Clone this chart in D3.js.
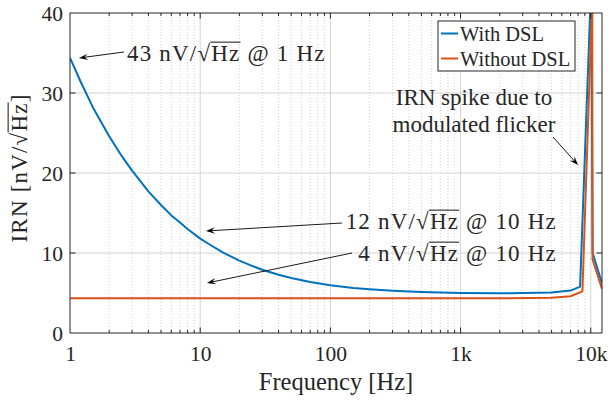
<!DOCTYPE html>
<html>
<head>
<meta charset="utf-8">
<script src="https://cdn.jsdelivr.net/npm/d3@7"></script>
<style>
  body { margin: 0; background: #fff; }
  text { font-family: "Liberation Serif", "Times New Roman", serif; fill: #262626; }
</style>
</head>
<body>
<svg id="chart" width="608" height="400"></svg>
<script>
// IRN data (frequency in Hz, IRN in nV/sqrt(Hz))
const freqWith = [1, 1.2, 1.5, 2, 2.5, 3, 4, 5, 6, 7, 8, 10, 12, 15, 20, 25, 30, 40, 50, 70, 100, 150, 200, 300, 500, 1000, 2000, 5000, 7000, 8280, 10090, 10340, 12200];
const irnWith = [34.4, 31.5, 28.2, 24.6, 22.1, 20.3, 17.7, 16.0, 14.7, 13.8, 13.0, 11.8, 11.0, 10.05, 9.05, 8.4, 7.9, 7.28, 6.87, 6.37, 5.97, 5.63, 5.46, 5.28, 5.12, 5.01, 4.96, 5.05, 5.3, 5.8, 44, 10.0, 6.2];

const freqWithout = [1, 10, 100, 1000, 2000, 5000, 7000, 8630, 10270, 10320, 12200];
const irnWithout = [4.33, 4.33, 4.33, 4.33, 4.34, 4.4, 4.6, 5.2, 42, 9.2, 5.5];

const xTicks = [1, 10, 100, 1000, 10000];
const xTickLabels = ["1", "10", "100", "1k", "10k"];
const yTicks = [0, 10, 20, 30, 40];

const seriesNames = ["With DSL", "Without DSL"];
const colors = ["#0072BD", "#D95319"];

const margin = { left: 70, right: 6, top: 13, bottom: 67 };
const W = 608, H = 400;
const innerW = W - margin.left - margin.right;
const innerH = H - margin.top - margin.bottom;

const svg = d3.select("#chart");

const x = d3.scaleLog().domain([1, 12200]).range([margin.left, margin.left + innerW]);
const y = d3.scaleLinear().domain([0, 40]).range([margin.top + innerH, margin.top]);

const minorTicks = [];
for (let dec = 1; dec < 10000; dec *= 10) {
    for (let k = 2; k <= 9; k++) minorTicks.push(dec * k);
}

// grid
const grid = svg.append("g").attr("class", "grid");
grid.selectAll(".minor-x").data(minorTicks).join("line")
    .attr("x1", d => x(d)).attr("x2", d => x(d))
    .attr("y1", y(0)).attr("y2", y(40))
    .attr("stroke", "#c8c8c8").attr("stroke-width", 0.8)
    .attr("stroke-dasharray", "1,2");
grid.selectAll(".major-x").data(xTicks.slice(1)).join("line")
    .attr("x1", d => x(d)).attr("x2", d => x(d))
    .attr("y1", y(0)).attr("y2", y(40))
    .attr("stroke", "#d4d4d4").attr("stroke-width", 1);
grid.selectAll(".major-y").data(yTicks.slice(1, -1)).join("line")
    .attr("x1", x.range()[0]).attr("x2", x.range()[1])
    .attr("y1", d => y(d)).attr("y2", d => y(d))
    .attr("stroke", "#d4d4d4").attr("stroke-width", 1);

// series
svg.append("clipPath").attr("id", "plotclip")
    .append("rect").attr("x", margin.left).attr("y", margin.top)
    .attr("width", innerW).attr("height", innerH);

const line = d3.line().x(d => x(d[0])).y(d => y(d[1]));
const series = [d3.zip(freqWith, irnWith), d3.zip(freqWithout, irnWithout)];

const plot = svg.append("g").attr("clip-path", "url(#plotclip)");
plot.selectAll("path").data(series).join("path")
    .attr("d", line)
    .attr("fill", "none")
    .attr("stroke", (d, i) => colors[i])
    .attr("stroke-width", 2)
    .attr("stroke-linejoin", "round");

// axes: bottom / top / left / right with inward ticks
const axisColor = "#262626";
const bottom = svg.append("g").attr("transform", `translate(0,${y(0)})`)
    .call(d3.axisBottom(x).tickValues(xTicks).tickSize(0).tickPadding(0)
        .tickFormat((d, i) => xTickLabels[i]));
bottom.select(".domain").remove();
bottom.selectAll("text").attr("font-size", 21.5).attr("dy", null).attr("y", 28)
    .attr("fill", axisColor).attr("font-family", "Liberation Serif");

const left = svg.append("g").attr("transform", `translate(${x(1)},0)`)
    .call(d3.axisLeft(y).tickValues(yTicks).tickSize(0).tickPadding(7));
left.select(".domain").remove();
left.selectAll("text").attr("font-size", 21.5).attr("dy", "0.34em")
    .attr("fill", axisColor).attr("font-family", "Liberation Serif");

const ticks = svg.append("g").attr("stroke", axisColor).attr("stroke-width", 1);
[y(0), y(40)].forEach((yy, side) => {
    const dir = side === 0 ? -1 : 1;
    ticks.selectAll(null).data(xTicks.slice(1)).join("line")
        .attr("x1", d => x(d)).attr("x2", d => x(d))
        .attr("y1", yy).attr("y2", yy + dir * 5.5);
    ticks.selectAll(null).data(minorTicks).join("line")
        .attr("x1", d => x(d)).attr("x2", d => x(d))
        .attr("y1", yy).attr("y2", yy + dir * 3);
});
[x.range()[0], x.range()[1]].forEach((xx, side) => {
    const dir = side === 0 ? 1 : -1;
    ticks.selectAll(null).data(yTicks.slice(1, -1)).join("line")
        .attr("x1", xx).attr("x2", xx + dir * 5.5)
        .attr("y1", d => y(d)).attr("y2", d => y(d));
});
svg.append("rect")
    .attr("x", margin.left).attr("y", margin.top)
    .attr("width", innerW).attr("height", innerH)
    .attr("fill", "none").attr("stroke", axisColor).attr("stroke-width", 1);

// text with a square root over "Hz" (LaTeX-like, a bit wider spacing)
function rootText(g, px, py, pre, post, size, anchor) {
    const t = g.append("text").attr("x", px).attr("y", py)
        .attr("font-size", size).attr("text-anchor", anchor || "start")
        .attr("letter-spacing", 1.2)
        .attr("fill", "#111");
    t.append("tspan").text(pre + "\u221A");
    t.append("tspan").text("Hz");
    t.append("tspan").text(post);
    const node = t.node();
    const iH = pre.length + 1;
    const x0 = node.getStartPositionOfChar(iH).x;
    const x1 = node.getEndPositionOfChar(iH + 1).x;
    g.append("line")
        .attr("x1", x0 - 1).attr("x2", x1)
        .attr("y1", py - size * 0.82).attr("y2", py - size * 0.82)
        .attr("stroke", "#111").attr("stroke-width", 1);
    return t;
}

// labels
svg.append("text")
    .attr("x", (x.range()[0] + x.range()[1]) / 2).attr("y", 390)
    .attr("text-anchor", "middle").attr("font-size", 24.5)
    .attr("fill", axisColor)
    .text("Frequency [Hz]");

const yl = svg.append("g").attr("transform", "translate(27,168) rotate(-90)");
rootText(yl, 0, 0, "IRN [nV/", "]", 23, "middle");

// annotations with arrows
function arrow(g, x1, y1, x2, y2) {
    const a = Math.atan2(y2 - y1, x2 - x1);
    const len = 9, wid = 3.2;
    g.append("line").attr("x1", x1).attr("y1", y1)
        .attr("x2", x2 - Math.cos(a) * 5).attr("y2", y2 - Math.sin(a) * 5)
        .attr("stroke", "#000").attr("stroke-width", 0.9);
    const bx = x2 - Math.cos(a) * len, by = y2 - Math.sin(a) * len;
    const nx = x2 - Math.cos(a) * len * 0.6, ny = y2 - Math.sin(a) * len * 0.6;
    const px = -Math.sin(a) * wid, py = Math.cos(a) * wid;
    g.append("path")
        .attr("d", `M${x2},${y2}L${bx + px},${by + py}L${nx},${ny}L${bx - px},${by - py}Z`)
        .attr("fill", "#000");
}

const ann = svg.append("g");
arrow(ann, 124, 52, 79, 58);
rootText(ann, 127, 61, "43 nV/", " @ 1 Hz", 23, "start");

arrow(ann, 342, 223, 206, 231);
rootText(ann, 557, 229, "12 nV/", " @ 10 Hz", 23, "end");

arrow(ann, 352, 253, 207, 283);
rootText(ann, 557, 261, "4 nV/", " @ 10 Hz", 23, "end");

ann.append("text").attr("x", 474).attr("y", 105).attr("text-anchor", "middle")
    .attr("font-size", 23).attr("fill", "#111").text("IRN spike due to");
ann.append("text").attr("x", 474).attr("y", 132).attr("text-anchor", "middle")
    .attr("font-size", 23).attr("fill", "#111").text("modulated flicker");
arrow(ann, 553, 137, 578, 165);

// legend
const lg = svg.append("g");
lg.append("rect").attr("x", 438).attr("y", 21).attr("width", 137).attr("height", 50)
    .attr("fill", "#fff").attr("stroke", axisColor).attr("stroke-width", 1);
seriesNames.forEach((name, i) => {
    const ly = 33.5 + i * 25;
    lg.append("line").attr("x1", 441).attr("x2", 458).attr("y1", ly).attr("y2", ly)
        .attr("stroke", colors[i]).attr("stroke-width", 2);
    lg.append("text").attr("x", 460).attr("y", ly + 7).attr("font-size", 20.5)
        .attr("fill", "#000").text(name);
});
</script>
</body>
</html>
